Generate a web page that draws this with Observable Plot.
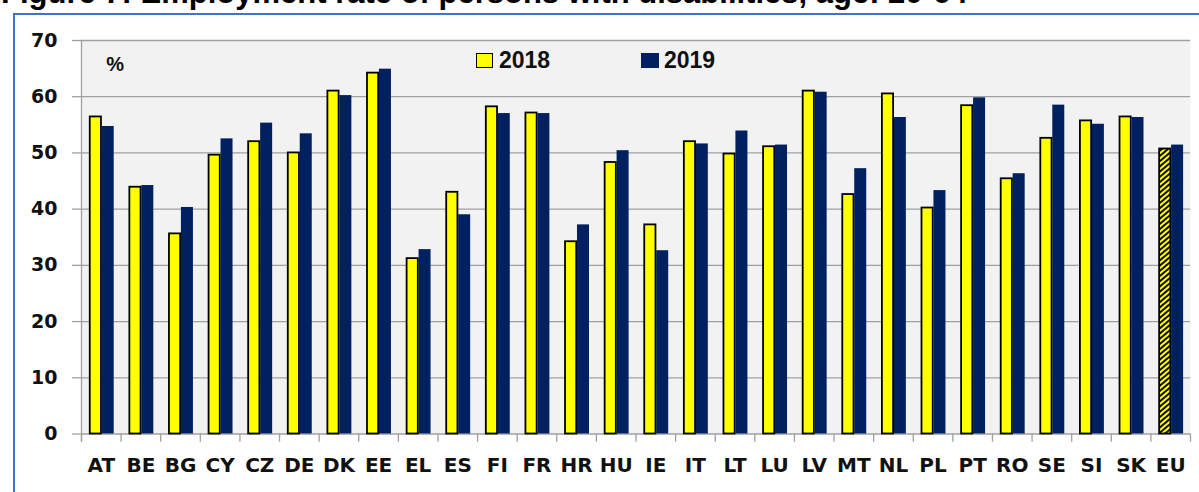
<!DOCTYPE html>
<html><head><meta charset="utf-8">
<script src="https://cdn.jsdelivr.net/npm/d3@7"></script>
<script src="https://cdn.jsdelivr.net/npm/@observablehq/plot@0.6"></script>
<style>
html,body{margin:0;padding:0;background:#fff;overflow:hidden}
#wrap{position:relative;width:1199px;height:492px;overflow:hidden}
#title{position:absolute;left:1px;top:-23px;font:bold 31px/31px "Liberation Sans",Arial,sans-serif;white-space:nowrap;color:#000}
#border{position:absolute;left:12.5px;top:12.5px;width:2000px;height:2000px;border-left:2.5px solid #4472C4;border-top:2.5px solid #4472C4}
#chart{position:absolute;left:0;top:0}
.sw{position:absolute;box-sizing:border-box}
.lt{position:absolute;font:bold 23px/23px "Liberation Sans",Arial,sans-serif;color:#111;white-space:nowrap}
</style></head>
<body><div id="wrap"><div id="title">Figure 7: Employment rate of persons with disabilities, age: 20-64</div><div id="border"></div><div id="chart"></div></div>
<script>
const countries = ["AT","BE","BG","CY","CZ","DE","DK","EE","EL","ES","FI","FR","HR","HU","IE","IT","LT","LU","LV","MT","NL","PL","PT","RO","SE","SI","SK","EU"];
const v2018 = [56.4,43.9,35.6,49.6,52.0,50.0,61.0,64.2,31.2,43.0,58.2,57.1,34.2,48.3,37.2,52.0,49.8,51.1,61.0,42.6,60.5,40.2,58.4,45.4,52.6,55.7,56.4,50.7];
const v2019 = [54.7,44.2,40.3,52.5,55.3,53.4,60.2,64.9,32.8,39.0,57.0,57.0,37.2,50.4,32.6,51.6,53.9,51.4,60.8,47.2,56.3,43.3,59.8,46.3,58.5,55.1,56.3,51.4];
const yTicks = [0,10,20,30,40,50,60,70];
const seriesNames = ["2018","2019"];
const seriesColors = ["#ffff00","#002060"];
const aggregate = "EU";

const d18 = countries.map((c,i)=>({c, v:v2018[i]}));
const d19 = countries.map((c,i)=>({c, v:v2019[i]}));

const grey = "#a0a0a0";
const chart = Plot.plot({
  width: 1199, height: 492,
  marginTop: 40, marginBottom: 58.5, marginLeft: 81, marginRight: 9,
  style: {background: "transparent", overflow: "visible"},
  x: {domain: countries, padding: 0, round: false, label: null},
  y: {domain: [0,70], label: null},
  marks: [
    Plot.frame({fill: "#f2f2f2", stroke: "none"}),
    Plot.gridY(yTicks, {stroke: grey, strokeOpacity: 1, strokeWidth: 1.3}),
    Plot.axisY(yTicks, {tickSize: 9, tickPadding: 15, stroke: grey, strokeWidth: 1.3, fontSize: 19, fontWeight: "bold", fontFamily: "DejaVu Sans", fill: "#111", label: null}),
    Plot.axisX({tickSize: 0, tickPadding: 24, fontSize: 20, fontWeight: "bold", fontFamily: "DejaVu Sans", fill: "#111", label: null}),
    Plot.ruleX(countries, {x: d=>d, dx: -19.8, y1: 0, y2: -1.45, stroke: grey, strokeWidth: 1.3}),
    Plot.ruleX([countries[countries.length-1]], {x: d=>d, dx: 19.8, y1: 0, y2: -1.45, stroke: grey, strokeWidth: 1.3}),
    Plot.ruleX([countries[0]], {x: d=>d, dx: -19.8, y1: -1.45, y2: 70, stroke: grey, strokeWidth: 1.3}),
    Plot.barY(d18.filter(d=>d.c!==aggregate), {x: "c", y: "v", fill: seriesColors[0], stroke: "#000", strokeWidth: 1.8, insetLeft: 8.75, insetRight: 19.65}),
    Plot.barY(d18.filter(d=>d.c===aggregate), {x: "c", y: "v", fill: "url(#euhatch)", stroke: "#000", strokeWidth: 1.8, insetLeft: 8.75, insetRight: 19.65}),
    Plot.barY(d19, {x: "c", y: "v", fill: seriesColors[1], insetLeft: 20.7, insetRight: 6.9}),
    Plot.text(["%"], {text: d=>d, frameAnchor: "top-left", dx: 24.7, dy: 24.3, lineAnchor: "middle", textAnchor: "start", fontSize: 20, fontWeight: "bold", fontFamily: "Liberation Sans", fill: "#111"})
  ]
});
d3.select(chart).insert("defs", ":first-child").html(
  '<pattern id="euhatch" patternUnits="userSpaceOnUse" width="4" height="4" patternTransform="rotate(-40)">' +
  '<rect width="4" height="4" fill="#ffff00"/><rect width="4" height="1.9" fill="#000"/></pattern>');
const wrap = document.getElementById("wrap");
document.getElementById("chart").appendChild(chart);

// legend
const legPos = [{sx:476, tx:499, border:true},{sx:640.7, tx:664, border:false}];
seriesNames.forEach((name,i)=>{
  const sw = document.createElement("div");
  sw.className = "sw";
  sw.style.left = legPos[i].sx + "px"; sw.style.top = "52.7px";
  sw.style.width = (legPos[i].border ? 16.7 : 18) + "px"; sw.style.height = "15.6px";
  sw.style.background = seriesColors[i];
  if (legPos[i].border) sw.style.border = "1.6px solid #000";
  wrap.appendChild(sw);
  const t = document.createElement("div");
  t.className = "lt"; t.textContent = name;
  t.style.left = legPos[i].tx + "px"; t.style.top = "48.8px";
  wrap.appendChild(t);
});
</script></body></html>
